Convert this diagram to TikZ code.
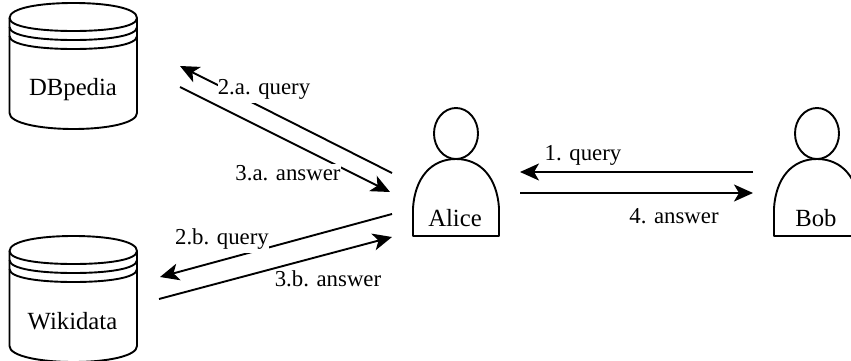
\documentclass[tikz,border=0pt]{standalone}
\usepackage{fontspec}
\setmainfont{Liberation Serif}
\usetikzlibrary{arrows.meta}
\tikzset{
  x=1pt,y=-1pt,
  shape line/.style={draw=black,line width=1.9pt,line join=round},
  link/.style={draw=black,line width=1.9pt,-{Stealth[length=19pt,width=17pt,inset=5pt]}},
  name text/.style={inner sep=0pt,font=\fontsize{24.7}{28}\selectfont},
  edge label/.style={fill=white,inner sep=0pt,text height=17pt,text depth=8pt,font=\fontsize{22.8}{26}\selectfont},
}
\newcommand{\dbshape}[2]{%
  \begin{scope}[shift={(#1,#2)}]
    \draw[shape line,fill=white] (0,15) .. controls (0,5) and (30,0) .. (64,0)
      .. controls (98,0) and (127.5,5) .. (127.5,15)
      -- (127.5,110) .. controls (127.5,120) and (98,126) .. (64,126)
      .. controls (30,126) and (0,120) .. (0,110) -- cycle;
    \draw[shape line] (0,15) .. controls (0,24) and (30,28) .. (64,28) .. controls (98,28) and (127.5,24) .. (127.5,15);
    \draw[shape line] (0,24) .. controls (0,33) and (30,37) .. (64,37) .. controls (98,37) and (127.5,33) .. (127.5,24);
    \draw[shape line] (0,33) .. controls (0,42) and (30,46) .. (64,46) .. controls (98,46) and (127.5,42) .. (127.5,33);
  \end{scope}}
\newcommand{\personshape}[1]{%
  \begin{scope}[shift={(#1,0)}]
    \draw[shape line] (0,133.5) ellipse [x radius=22,y radius=25.5];
    \draw[shape line] (-43,236) -- (-43,208) .. controls (-41,178) and (-25,159) .. (0,159)
      .. controls (25,159) and (41,178) .. (43,208) -- (43,236) -- cycle;
  \end{scope}}
\begin{document}
\begin{tikzpicture}
  \useasboundingbox (0,0) rectangle (851,361);
  \clip (0,0) rectangle (851,361);
  \dbshape{9.5}{3}
  \dbshape{9.5}{236}
  \personshape{456}
  \personshape{817}
  \node[name text] (dbpedia) at (73,90) {DBpedia};
  \node[name text] (wikidata) at (72.5,321) {Wikidata};
  \node[name text] (alice) at (455,218) {Alice};
  \node[name text] (bob) at (816,218) {Bob};
  \coordinate (a1) at (392,173); \coordinate (d1) at (180,66);
  \coordinate (d2) at (180,87);  \coordinate (a2) at (390,192);
  \coordinate (a3) at (392,214); \coordinate (w1) at (160,277);
  \coordinate (w2) at (159,299); \coordinate (a4) at (392,237);
  \coordinate (b1) at (753,172); \coordinate (a5) at (520,172);
  \coordinate (a6) at (520,193); \coordinate (b2) at (753,193);
  \draw[link] (a1) -- (d1);
  \draw[link] (d2) -- (a2);
  \draw[link] (a3) -- (w1);
  \draw[link] (w2) -- (a4);
  \draw[link] (b1) -- (a5);
  \draw[link] (a6) -- (b2);
  \node[edge label] (l2a) at (264,90) {2.a. query};
  \node[edge label] (l3a) at (288,176) {3.a. answer};
  \node[edge label] (l2b) at (222,240) {2.b. query};
  \node[edge label] (l3b) at (328,282) {3.b. answer};
  \node[edge label] (l1) at (583,156) {1. query};
  \node[edge label] (l4) at (674,219) {4. answer};
\end{tikzpicture}
\end{document}
